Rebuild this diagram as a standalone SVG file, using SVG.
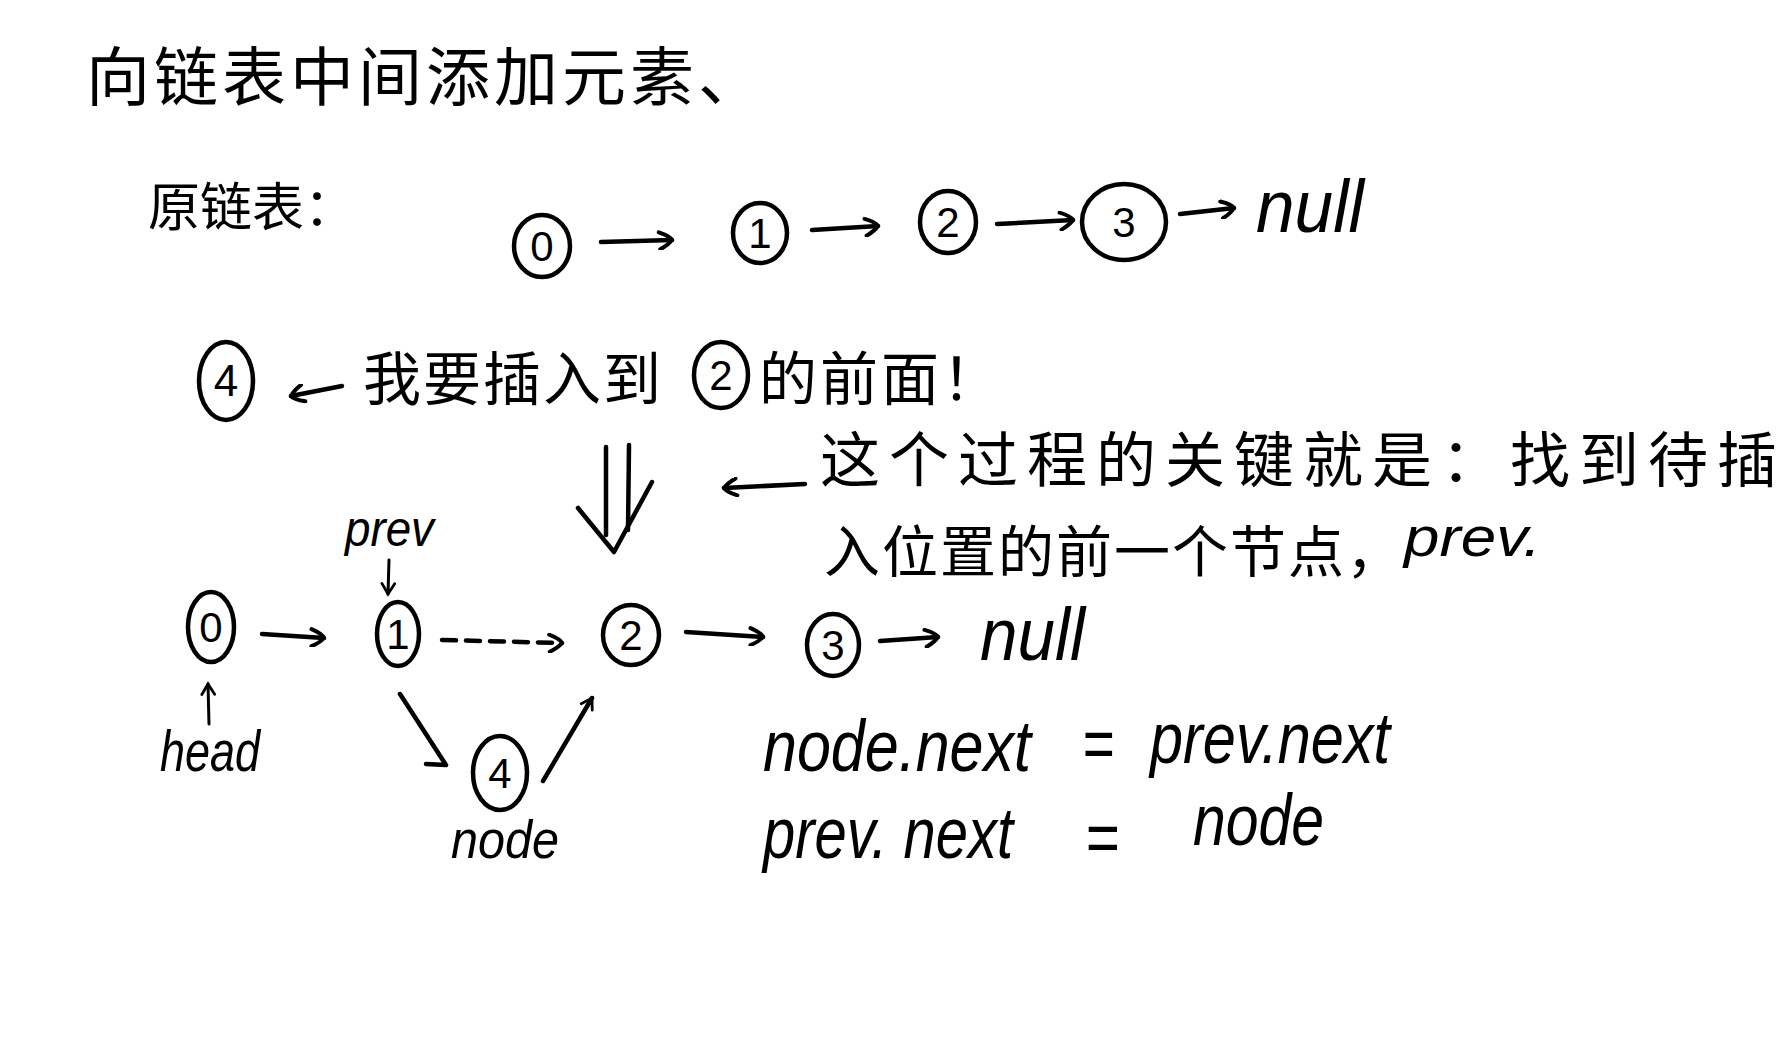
<svg xmlns="http://www.w3.org/2000/svg" width="1790" height="1047" viewBox="0 0 1790 1047">
<style>
.cjk{font-family:"Noto Sans CJK SC","Noto Sans CJK JP",sans-serif;fill:#000;}
.en{font-family:"Liberation Sans","DejaVu Sans",sans-serif;fill:#000;font-style:italic;}
.num{font-family:"Liberation Sans","DejaVu Sans",sans-serif;fill:#000;text-anchor:middle;}
.ring{fill:none;stroke:#000;stroke-width:4.5;}
.ln{fill:none;stroke:#000;stroke-width:4.5;stroke-linecap:round;stroke-linejoin:round;}
.thin{fill:none;stroke:#000;stroke-width:3;stroke-linecap:round;stroke-linejoin:round;}
</style>
<defs>
<marker id="arr" viewBox="0 0 20 20" refX="16" refY="10" markerWidth="20" markerHeight="20" markerUnits="userSpaceOnUse" orient="auto">
<path d="M3,2 Q14,6 16,10 Q12,15 4,19" fill="none" stroke="#000" stroke-width="4" stroke-linecap="round"/>
</marker>
<marker id="arrS" viewBox="0 0 20 20" refX="16" refY="10" markerWidth="16" markerHeight="16" markerUnits="userSpaceOnUse" orient="auto">
<path d="M3,2 L16,10 L3,18" fill="none" stroke="#000" stroke-width="3.5" stroke-linecap="round"/>
</marker>
</defs>
<rect width="1790" height="1047" fill="#fff"/>

<g id="title">
<text class="cjk" x="86" y="100" font-size="64" letter-spacing="4">向链表中间添加元素、</text>
</g>
<g id="label-original">
<text class="cjk" x="148" y="226" font-size="52">原链表：</text>
</g>

<g id="top-n0"><ellipse class="ring" cx="542" cy="246" rx="28" ry="31"/><text class="num" x="542" y="261" font-size="42">0</text></g>
<g id="top-n1"><ellipse class="ring" cx="760" cy="233" rx="27" ry="30"/><text class="num" x="760" y="248" font-size="42">1</text></g>
<g id="top-n2"><ellipse class="ring" cx="948" cy="222" rx="28" ry="31"/><text class="num" x="948" y="237" font-size="42">2</text></g>
<g id="top-n3"><ellipse class="ring" cx="1124" cy="222" rx="42" ry="38"/><text class="num" x="1124" y="237" font-size="42">3</text></g>
<g id="top-null"><text class="en" x="1256" y="232" font-size="74" textLength="108" lengthAdjust="spacingAndGlyphs">null</text></g>

<g id="insert-note">
<ellipse class="ring" cx="226" cy="381" rx="27" ry="39"/><text class="num" x="226" y="396" font-size="44">4</text>
<text class="cjk" x="363" y="400" font-size="58" letter-spacing="2">我要插入到</text>
<ellipse class="ring" cx="721" cy="375" rx="27" ry="33"/><text class="num" x="721" y="390" font-size="42">2</text>
<text class="cjk" x="759" y="400" font-size="58" letter-spacing="3">的前面！</text>
</g>

<g id="key-note">
<text class="cjk" x="820" y="482" font-size="60" letter-spacing="9">这个过程的关键就是：找到待插</text>
<text class="cjk" x="824" y="572" font-size="56" letter-spacing="2">入位置的前一个节点，</text>
<text class="en" x="1404" y="556" font-size="56" textLength="137" lengthAdjust="spacingAndGlyphs">prev.</text>
</g>

<g id="b-n0"><ellipse class="ring" cx="211" cy="627" rx="23" ry="35"/><text class="num" x="211" y="642" font-size="42">0</text></g>
<g id="b-n1"><ellipse class="ring" cx="398" cy="634" rx="21" ry="32"/><text class="num" x="398" y="649" font-size="42">1</text></g>
<g id="b-n2"><ellipse class="ring" cx="631" cy="635" rx="28" ry="30"/><text class="num" x="631" y="650" font-size="42">2</text></g>
<g id="b-n3"><ellipse class="ring" cx="833" cy="645" rx="26" ry="31"/><text class="num" x="833" y="660" font-size="42">3</text></g>
<g id="b-null"><text class="en" x="980" y="660" font-size="74" textLength="105" lengthAdjust="spacingAndGlyphs">null</text></g>
<g id="b-n4"><ellipse class="ring" cx="500" cy="773" rx="27" ry="37"/><text class="num" x="500" y="788" font-size="42">4</text></g>

<g id="label-prev"><text class="en" x="345" y="546" font-size="50" textLength="89" lengthAdjust="spacingAndGlyphs">prev</text></g>
<g id="label-head"><text class="en" x="160" y="771" font-size="58" textLength="100" lengthAdjust="spacingAndGlyphs">head</text></g>
<g id="label-node"><text class="en" x="451" y="858" font-size="54" textLength="108" lengthAdjust="spacingAndGlyphs">node</text></g>

<g id="code">
<text class="en" x="763" y="771" font-size="72" textLength="268" lengthAdjust="spacingAndGlyphs">node.next</text>
<text class="en" x="1082" y="768" font-size="72" textLength="32" lengthAdjust="spacingAndGlyphs">=</text>
<text class="en" x="1150" y="763" font-size="72" textLength="240" lengthAdjust="spacingAndGlyphs">prev.next</text>
<text class="en" x="763" y="858" font-size="72" textLength="250" lengthAdjust="spacingAndGlyphs">prev. next</text>
<text class="en" x="1085" y="862" font-size="72" textLength="34" lengthAdjust="spacingAndGlyphs">=</text>
<text class="en" x="1193" y="845" font-size="72" textLength="131" lengthAdjust="spacingAndGlyphs">node</text>
</g>

<g id="connectors">
<!-- top row -->
<line class="ln" x1="601" y1="242" x2="672" y2="240" marker-end="url(#arr)"/>
<line class="ln" x1="812" y1="230" x2="878" y2="226" marker-end="url(#arr)"/>
<line class="ln" x1="997" y1="224" x2="1073" y2="220" marker-end="url(#arr)"/>
<line class="ln" x1="1180" y1="214" x2="1234" y2="208" marker-end="url(#arr)"/>
<!-- insert note arrow -->
<line class="ln" x1="342" y1="386" x2="291" y2="396" marker-end="url(#arr)"/>
<!-- double down arrow -->
<line class="ln" x1="606" y1="447" x2="606" y2="535"/>
<line class="ln" x1="629" y1="445" x2="628" y2="530"/>
<path class="ln" d="M578,508 L614,552 L652,482"/>
<!-- key note arrow -->
<line class="ln" x1="805" y1="484" x2="724" y2="488" marker-end="url(#arr)"/>
<!-- bottom row -->
<line class="ln" x1="262" y1="634" x2="324" y2="638" marker-end="url(#arr)"/>
<line class="ln" x1="442" y1="640" x2="562" y2="643" stroke-dasharray="14,10" marker-end="url(#arr)"/>
<line class="ln" x1="686" y1="632" x2="763" y2="637" marker-end="url(#arr)"/>
<line class="ln" x1="880" y1="641" x2="938" y2="637" marker-end="url(#arr)"/>
<!-- prev pointer -->
<line class="thin" x1="389" y1="560" x2="388" y2="594" marker-end="url(#arrS)"/>
<!-- head pointer -->
<line class="thin" x1="209" y1="724" x2="208" y2="684" marker-end="url(#arrS)"/>
<!-- 1 to 4 -->
<path class="ln" d="M400,694 L446,765 L426,764"/>
<!-- 4 to 2 -->
<line class="ln" x1="543" y1="781" x2="592" y2="698" marker-end="url(#arrS)"/>
</g>
</svg>
